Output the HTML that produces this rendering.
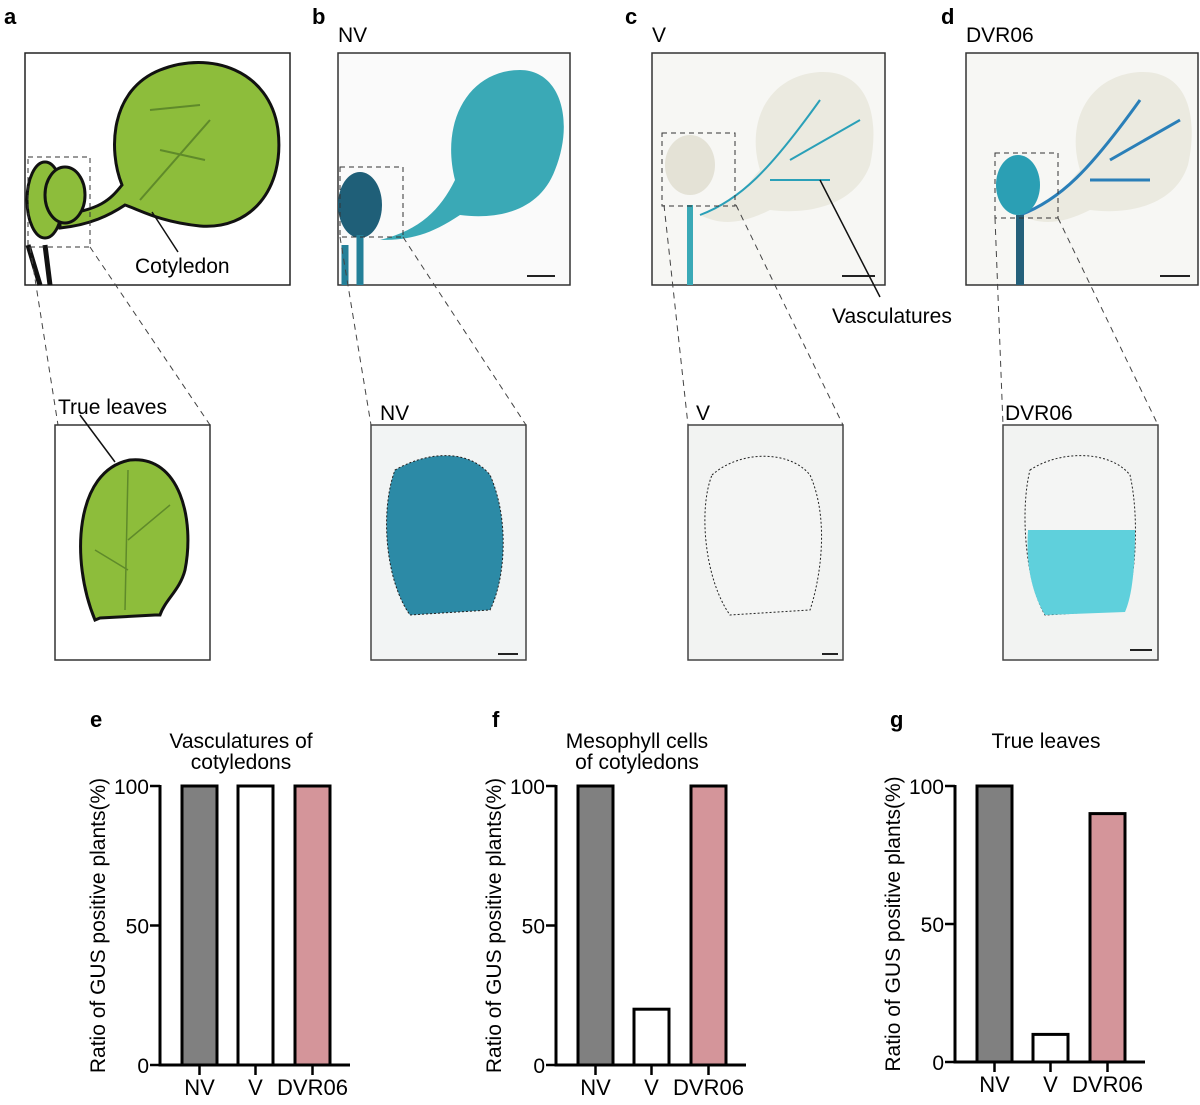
<!DOCTYPE html>
<html><head><meta charset="utf-8"><style>
body{margin:0;background:#fff;}
svg{display:block;font-family:"Liberation Sans",Arial,sans-serif;}
</style></head><body>
<svg width="1200" height="1105" viewBox="0 0 1200 1105">
<g font-weight="bold" font-size="22">
<text x="4" y="24">a</text>
<text x="312" y="24">b</text>
<text x="625" y="24">c</text>
<text x="941" y="24">d</text>
<text x="90" y="727">e</text>
<text x="492" y="727">f</text>
<text x="890" y="727">g</text>
</g>
<g font-size="21">
<text x="338" y="42">NV</text><text x="652" y="42">V</text><text x="966" y="42">DVR06</text>
</g>
<!-- panel a -->
<g>
<rect x="25" y="53" width="265" height="232" fill="#fff" stroke="#222" stroke-width="1.5"/>
<path d="M28 245 L40 285 M45 245 L50 285" stroke="#111" stroke-width="5" fill="none"/>
<path d="M60 215 C100 210 110 200 122 185 C108 150 110 90 160 70 C210 50 270 70 278 130 C285 190 250 230 200 226 C160 222 140 210 125 205 C110 215 90 225 60 228 Z" fill="#8dbd3b" stroke="#111" stroke-width="3"/>
<path d="M140 200 L210 120 M150 110 L200 105 M160 150 L205 160" stroke="#5f8a2a" stroke-width="2" fill="none"/>
<ellipse cx="45" cy="200" rx="18" ry="38" fill="#8dbd3b" stroke="#111" stroke-width="3"/>
<ellipse cx="65" cy="195" rx="20" ry="28" fill="#8dbd3b" stroke="#111" stroke-width="3"/>
<rect x="28" y="157" width="62" height="90" fill="none" stroke="#333" stroke-dasharray="5,4"/>
<line x1="152" y1="212" x2="178" y2="252" stroke="#111" stroke-width="1.5"/>
<text x="135" y="273" font-size="21">Cotyledon</text>
<path d="M30 247 L58 425 M90 247 L210 425" stroke="#444" stroke-dasharray="6,5" fill="none"/>
<rect x="55" y="425" width="155" height="235" fill="#fff" stroke="#333" stroke-width="1.5"/>
<path d="M95 620 C70 560 75 470 130 460 C180 455 195 520 185 570 C180 590 165 600 160 615 L155 615 L100 618 Z" fill="#8dbd3b" stroke="#111" stroke-width="3"/>
<path d="M125 610 L128 470 M128 540 L170 505 M128 570 L95 550" stroke="#5f8a2a" stroke-width="1.5" fill="none"/>
<line x1="80" y1="415" x2="115" y2="462" stroke="#111" stroke-width="1.5"/>
<text x="58" y="414" font-size="21">True leaves</text>
</g>
<!-- panel b -->
<g>
<rect x="338" y="53" width="232" height="232" fill="#fafafa" stroke="#333" stroke-width="1.5"/>
<path d="M380 240 C420 230 440 210 455 180 C440 120 470 70 520 70 C560 70 575 120 555 170 C540 210 500 220 460 215 C430 235 410 240 380 240Z" fill="#3aa9b6"/>
<ellipse cx="360" cy="205" rx="22" ry="33" fill="#1f5f78"/>
<path d="M360 235 L360 285 M345 245 L345 285" stroke="#237f98" stroke-width="7"/>
<rect x="340" y="167" width="63" height="70" fill="none" stroke="#333" stroke-dasharray="5,4"/>
<line x1="527" y1="276" x2="555" y2="276" stroke="#222" stroke-width="2"/>
<path d="M340 237 L371 425 M403 237 L526 425" stroke="#444" stroke-dasharray="6,5"/>
<rect x="371" y="425" width="155" height="235" fill="#f2f4f4" stroke="#444" stroke-width="1.5"/>
<path d="M395 470 C430 450 470 450 490 475 C510 520 505 580 490 610 L410 615 C385 580 380 510 395 470Z" fill="#2c8aa6" stroke="#222" stroke-dasharray="2,2"/>
<text x="380" y="420" font-size="21">NV</text>
<line x1="498" y1="654" x2="518" y2="654" stroke="#222" stroke-width="2"/>
</g>
<!-- panel c -->
<g>
<rect x="652" y="53" width="233" height="232" fill="#f7f7f4" stroke="#333" stroke-width="1.5"/>
<path d="M700 215 C740 200 750 180 760 170 C745 120 770 75 820 72 C870 70 880 120 870 165 C855 205 810 215 770 210 C740 225 720 225 700 215Z" fill="#ebeae0"/>
<path d="M700 215 C740 200 770 170 820 100 M790 160 L860 120 M770 180 L830 180" stroke="#2aa0b8" stroke-width="2" fill="none"/>
<ellipse cx="690" cy="165" rx="25" ry="30" fill="#e4e2d6"/>
<path d="M690 205 L690 285" stroke="#3aa9b6" stroke-width="6"/>
<rect x="662" y="133" width="73" height="73" fill="none" stroke="#333" stroke-dasharray="5,4"/>
<line x1="842" y1="276" x2="875" y2="276" stroke="#222" stroke-width="2"/>
<line x1="820" y1="180" x2="880" y2="297" stroke="#111" stroke-width="1.5"/>
<text x="832" y="323" font-size="21">Vasculatures</text>
<path d="M664 205 L688 425 M736 205 L843 425" stroke="#444" stroke-dasharray="6,5"/>
<rect x="688" y="425" width="155" height="235" fill="#f2f3f2" stroke="#444" stroke-width="1.5"/>
<path d="M712 475 C740 450 790 450 810 475 C830 520 820 580 810 610 L730 615 C705 580 698 510 712 475Z" fill="#f4f5f4" stroke="#222" stroke-dasharray="2,2"/>
<text x="696" y="420" font-size="21">V</text>
<line x1="822" y1="654" x2="838" y2="654" stroke="#222" stroke-width="2"/>
</g>
<!-- panel d -->
<g>
<rect x="966" y="53" width="232" height="232" fill="#f7f7f4" stroke="#333" stroke-width="1.5"/>
<path d="M1020 215 C1060 200 1070 180 1080 170 C1065 120 1090 75 1140 72 C1190 70 1198 120 1188 165 C1175 205 1130 215 1090 210 C1060 225 1040 225 1020 215Z" fill="#ebeae0"/>
<path d="M1020 215 C1060 200 1090 170 1140 100 M1110 160 L1180 120 M1090 180 L1150 180" stroke="#2a7fb8" stroke-width="3" fill="none"/>
<ellipse cx="1018" cy="185" rx="22" ry="30" fill="#2b9fb4"/>
<path d="M1020 215 L1020 285" stroke="#24607a" stroke-width="8"/>
<rect x="995" y="153" width="63" height="65" fill="none" stroke="#333" stroke-dasharray="5,4"/>
<line x1="1160" y1="276" x2="1190" y2="276" stroke="#222" stroke-width="2"/>
<path d="M995 218 L1003 425 M1058 218 L1158 425" stroke="#444" stroke-dasharray="6,5"/>
<rect x="1003" y="425" width="155" height="235" fill="#f2f3f2" stroke="#444" stroke-width="1.5"/>
<path d="M1030 470 C1060 450 1110 450 1130 475 C1140 520 1135 580 1125 610 L1045 615 C1025 580 1020 510 1030 470Z" fill="#f4f5f4" stroke="#222" stroke-dasharray="2,2"/>
<path d="M1028 530 L1135 530 C1135 580 1130 600 1125 612 L1045 615 C1030 590 1026 560 1028 530Z" fill="#5fd0dc"/>
<text x="1005" y="420" font-size="21">DVR06</text>
<line x1="1130" y1="650" x2="1152" y2="650" stroke="#222" stroke-width="2"/>
</g>
<g id="charts"></g>
</svg>
<script>
const categories = ["NV","V","DVR06"];
const valuesE = [100,100,100];
const valuesF = [100,20,100];
const valuesG = [100,10,90];
const ticks = [0,50,100];
const colors = ["#808080","#ffffff","#d4959a"];
const NS="http://www.w3.org/2000/svg";
const root=document.getElementById('charts');
function mk(tag,attrs,parent){const e=document.createElementNS(NS,tag);for(const k in attrs)e.setAttribute(k,attrs[k]);(parent||root).appendChild(e);return e;}
function chart(name,axisX,y0,y100,values,title1,title2,titleX){
  const g=mk('g',{});
  
  
  const yS=v=>y0+(y100-y0)*v/100;
  const bx=[axisX+22,axisX+78,axisX+135];
  const bw=35;
  values.forEach((v,i)=>{
    const r=mk('rect',{x:bx[i],y:yS(v),width:bw,height:y0-yS(v),fill:colors[i],stroke:'#000','stroke-width':3},g);
    
    
    mk('line',{x1:bx[i]+bw/2,x2:bx[i]+bw/2,y1:y0,y2:y0+10,stroke:'#000','stroke-width':2.5},g);
    const t=mk('text',{x:bx[i]+bw/2,y:y0+30,'font-size':22,'text-anchor':'middle'},g);
    t.textContent=categories[i];
    
    
  });
  mk('line',{x1:axisX,x2:axisX,y1:y100-1,y2:y0+1.5,stroke:'#000','stroke-width':3},g);
  mk('line',{x1:axisX-1.5,x2:axisX+190,y1:y0,y2:y0,stroke:'#000','stroke-width':3},g);
  ticks.forEach(t=>{
    mk('line',{x1:axisX-10,x2:axisX,y1:yS(t),y2:yS(t),stroke:'#000','stroke-width':2.5},g);
    const tx=mk('text',{x:axisX-11,y:yS(t)+8,'font-size':21,'text-anchor':'end'},g);
    tx.textContent=t;
    
    
  });
  const yl=mk('text',{transform:`translate(${axisX-55},${(y0+y100)/2}) rotate(-90)`,'font-size':21,'text-anchor':'middle'},g);
  yl.textContent='Ratio of GUS positive plants(%)';
  
  
  [title1,title2].forEach((s,i)=>{ if(!s)return;
    const tt=mk('text',{x:titleX,y:748+i*21,'font-size':21,'text-anchor':'middle'},g);
    tt.textContent=s;
    
    
  });
}
chart('chart-e',160,1065,786,valuesE,'Vasculatures of','cotyledons',241);
chart('chart-f',556,1065,786,valuesF,'Mesophyll cells','of cotyledons',637);
chart('chart-g',955,1062,786,valuesG,'True leaves','',1046);
</script>
</body></html>
